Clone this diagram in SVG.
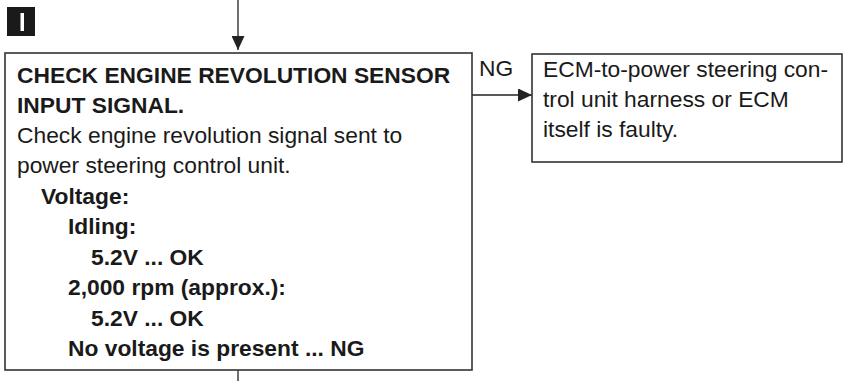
<svg xmlns="http://www.w3.org/2000/svg" width="845" height="381" viewBox="0 0 845 381">
<style>
.box{fill:#fff;stroke:#333;stroke-width:1.6}
.ln{fill:none;stroke:#222;stroke-width:1.3}
.t{font-family:"Liberation Sans",Arial,sans-serif;font-size:22.8px;fill:#1a1a1a}
.b{font-weight:bold}
</style>
<defs>
<marker id="ah" viewBox="0 0 14 13" refX="14" refY="6.5" markerWidth="14" markerHeight="13" markerUnits="userSpaceOnUse" orient="auto">
<path d="M0,0 L14,6.5 L0,13 Z" fill="#222"/>
</marker>
</defs>
<g id="step-marker">
<rect x="7" y="7" width="28" height="29" fill="#1a1a1a"/>
<rect x="20.5" y="13" width="3.5" height="18" fill="#fff"/>
</g>
<g id="connectors">
<line class="ln" x1="238" y1="0" x2="238" y2="50" marker-end="url(#ah)"/>
<line class="ln" x1="472" y1="95" x2="532" y2="95" marker-end="url(#ah)"/>
<line class="ln" x1="238" y1="370" x2="238" y2="381"/>
<text class="t" x="479" y="76">NG</text>
</g>
<g id="check-box">
<rect class="box" x="5" y="53" width="467" height="317"/>
<text class="t b" x="17" y="83">CHECK ENGINE REVOLUTION SENSOR</text>
<text class="t b" x="17" y="113">INPUT SIGNAL.</text>
<text class="t" x="17" y="143">Check engine revolution signal sent to</text>
<text class="t" x="17" y="173">power steering control unit.</text>
<text class="t b" x="41" y="204">Voltage:</text>
<text class="t b" x="68" y="234">Idling:</text>
<text class="t b" x="91" y="265">5.2V ... OK</text>
<text class="t b" x="68" y="295">2,000 rpm (approx.):</text>
<text class="t b" x="91" y="326">5.2V ... OK</text>
<text class="t b" x="68" y="356">No voltage is present ... NG</text>
</g>
<g id="ng-box">
<rect class="box" x="532" y="54" width="310" height="108"/>
<text class="t" x="543" y="77">ECM-to-power steering con-</text>
<text class="t" x="543" y="107">trol unit harness or ECM</text>
<text class="t" x="543" y="137">itself is faulty.</text>
</g>
</svg>
